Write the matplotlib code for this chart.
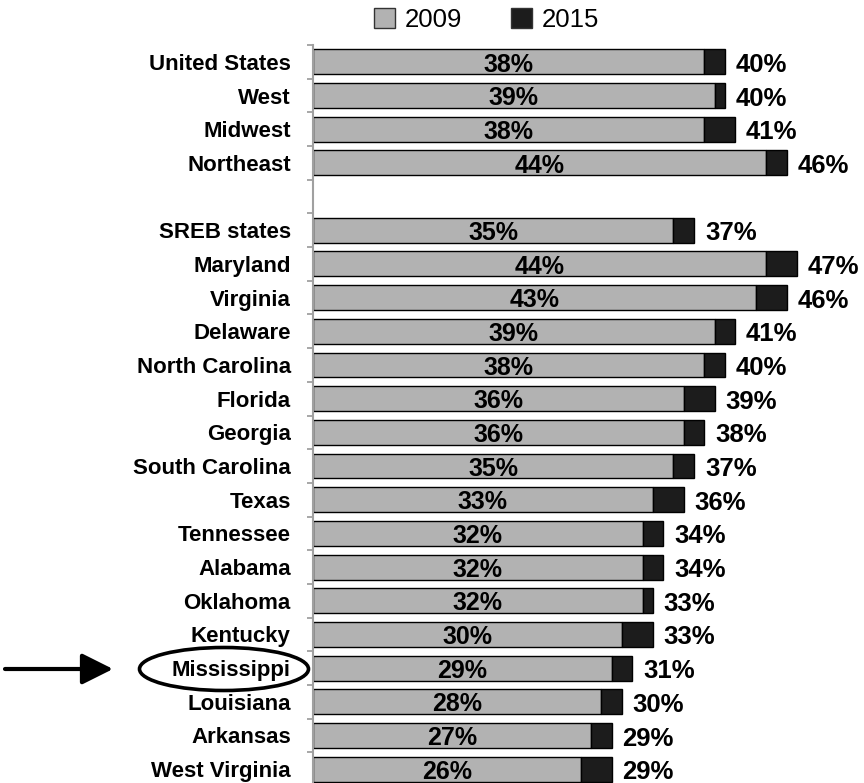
import numpy as np
import matplotlib
matplotlib.use('Agg')
import matplotlib.pyplot as plt
from matplotlib.patches import Ellipse, FancyArrowPatch, Patch

# data ('' row is the blank spacer)
categories = ['United States', 'West', 'Midwest', 'Northeast', '',
              'SREB states', 'Maryland', 'Virginia', 'Delaware', 'North Carolina',
              'Florida', 'Georgia', 'South Carolina', 'Texas', 'Tennessee',
              'Alabama', 'Oklahoma', 'Kentucky', 'Mississippi', 'Louisiana',
              'Arkansas', 'West Virginia']
pct_2009 = [38, 39, 38, 44, np.nan, 35, 44, 43, 39, 38, 36, 36, 35, 33, 32,
            32, 32, 30, 29, 28, 27, 26]
pct_2015 = [40, 40, 41, 46, np.nan, 37, 47, 46, 41, 40, 39, 38, 37, 36, 34,
            34, 33, 33, 31, 30, 29, 29]
highlight = 'Mississippi'

plt.rcParams['font.family'] = ['Liberation Sans', 'DejaVu Sans']

W, H = 864, 783
fig = plt.figure(figsize=(W/100, H/100), dpi=100)
ax_left, ax_top, ax_bot = 313, 45, 786
ax = fig.add_axes([ax_left/W, (H-ax_bot)/H, (W-ax_left)/W, (ax_bot-ax_top)/H])

gray = '#b2b2b2'
dark = '#1c1c1c'
ypos = np.arange(len(categories))
v09 = np.array(pct_2009, dtype=float)
v15 = np.array(pct_2015, dtype=float)
bh = 0.74

ax.barh(ypos, v09, height=bh, color=gray, edgecolor='black', linewidth=1.0)
ax.barh(ypos, v15-v09, left=v09, height=bh, color=dark, edgecolor='black', linewidth=1.0)

for y, a, b in zip(ypos, v09, v15):
    if np.isnan(a):
        continue
    ax.text(a/2, y+0.08, f'{a:.0f}%', ha='center', va='center',
            fontsize=18, fontweight='bold', color='black')
    ax.text(b+1.05, y+0.09, f'{b:.0f}%', ha='left', va='center',
            fontsize=18.5, fontweight='bold', color='black')

ax.set_xlim(0, 53.5)
ax.set_ylim(len(categories)-0.5, -0.5)
ax.set_yticks(ypos)
ax.set_yticklabels(categories, fontsize=16, fontweight='bold')
ax.tick_params(axis='y', which='major', length=0, pad=16)
ax.set_yticks(np.arange(-0.5, len(categories)), minor=True)
ax.tick_params(axis='y', which='minor', length=4.5, width=1.3, color='#a0a0a0')
ax.xaxis.set_visible(False)
for s in ['top', 'right', 'bottom']:
    ax.spines[s].set_visible(False)
ax.spines['left'].set_color('#a0a0a0')
ax.spines['left'].set_linewidth(1.5)

# legend on top
handles = [Patch(facecolor=gray, edgecolor='#333333', label='2009'),
           Patch(facecolor=dark, edgecolor='#333333', label='2015')]
fig.legend(handles=handles, loc='center', bbox_to_anchor=(487/W, 1-20/H),
           ncol=2, frameon=False, fontsize=18.5, handlelength=0.8,
           handleheight=0.8, handletextpad=0.4, columnspacing=1.9)

# circle + arrow around the highlighted state
cy = 1 - 669/H
fig.add_artist(Ellipse((224/W, cy), 169/W, 43/H, transform=fig.transFigure,
                       fill=False, edgecolor='black', linewidth=2.6))
fig.add_artist(FancyArrowPatch((5/W, cy), (113/W, cy), transform=fig.transFigure,
                               arrowstyle='-|>,head_length=19,head_width=9.5',
                               mutation_scale=1, linewidth=3, color='black',
                               shrinkA=0, shrinkB=0))

fig.savefig('out.png', dpi=100)
